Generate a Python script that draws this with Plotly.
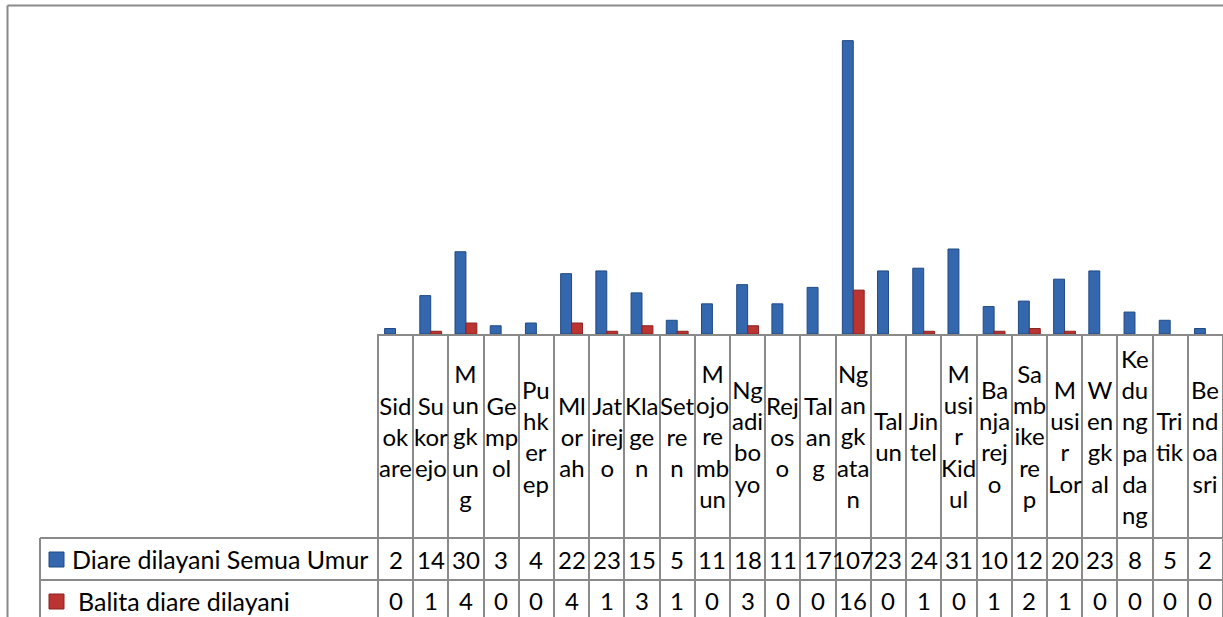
import plotly.graph_objects as go

# ---------------- data ----------------
categories = ["Sidokare", "Sukorejo", "Mungkung", "Gempol", "Puhkerep", "Mlorah",
              "Jatirejo", "Klagen", "Setren", "Mojorembun", "Ngadiboyo", "Rejoso",
              "Talang", "Ngangkatan", "Talun", "Jintel", "Musir Kidul", "Banjarejo",
              "Sambikerep", "Musir Lor", "Wengkal", "Kedungpadang", "Tritik", "Bendoasri"]
header_labels = ["Sid<br>ok<br>are", "Su<br>kor<br>ejo", "M<br>un<br>gk<br>un<br>g",
                 "Ge<br>mp<br>ol", "Pu<br>hk<br>er<br>ep", "Ml<br>or<br>ah",
                 "Jat<br>irej<br>o", "Kla<br>ge<br>n", "Set<br>re<br>n",
                 "M<br>ojo<br>re<br>mb<br>un", "Ng<br>adi<br>bo<br>yo", "Rej<br>os<br>o",
                 "Tal<br>an<br>g", "Ng<br>an<br>gk<br>ata<br>n", "Tal<br>un", "Jin<br>tel",
                 "M<br>usi<br>r<br>Kid<br>ul", "Ba<br>nja<br>rej<br>o", "Sa<br>mb<br>ike<br>re<br>p",
                 "M<br>usi<br>r<br>Lor", "W<br>en<br>gk<br>al", "Ke<br>du<br>ng<br>pa<br>da<br>ng",
                 "Tri<br>tik", "Be<br>nd<br>oa<br>sri"]
series1_name = "Diare dilayani Semua Umur"
series1 = [2, 14, 30, 3, 4, 22, 23, 15, 5, 11, 18, 11, 17, 107, 23, 24, 31, 10, 12, 20, 23, 8, 5, 2]
series2_name = "Balita diare dilayani"
series2 = [0, 1, 4, 0, 0, 4, 1, 3, 1, 0, 3, 0, 0, 16, 0, 1, 0, 1, 2, 1, 0, 0, 0, 0]

# ---------------- layout geometry (pixels) ----------------
FIG_W, FIG_H = 1223, 617
L, T, W, H = 377, 5, 846, 329          # plot area
BASE = T + H                            # y pixel of axis line (334)
ROW1_TOP, ROW2_TOP, BOTTOM = 538, 580, 621
LEG_LEFT = 40
BORDER_X, BORDER_Y = 7.5, 5.5
GRID = "#8a8a8a"
FONT = "Lato, 'Open Sans', sans-serif"
BLUE, BLUE_EDGE = "#3467AE", "#1F4A84"
RED, RED_EDGE = "#BC3431", "#8A2220"


def px(x):
    return (x - L) / W


def py(y):
    return (BASE - y) / H


fig = go.Figure()
fig.add_trace(go.Bar(x=categories, y=series1, name=series1_name,
                     marker=dict(color=BLUE,
                                 line=dict(color=BLUE_EDGE, width=[1 if v > 0 else 0 for v in series1]))))
fig.add_trace(go.Bar(x=categories, y=series2, name=series2_name,
                     marker=dict(color=RED,
                                 line=dict(color=RED_EDGE, width=[1 if v > 0 else 0 for v in series2]))))

shapes = []
# data-table horizontal rules
for yy in (ROW1_TOP, ROW2_TOP):
    shapes.append(dict(type="line", xref="paper", yref="paper", x0=px(LEG_LEFT), x1=1,
                       y0=py(yy), y1=py(yy), line=dict(color=GRID, width=2)))
# legend-cell left border
shapes.append(dict(type="line", xref="paper", yref="paper", x0=px(LEG_LEFT), x1=px(LEG_LEFT),
                   y0=py(ROW1_TOP), y1=py(BOTTOM), line=dict(color=GRID, width=2)))
# outer chart border (left and top)
shapes.append(dict(type="line", xref="paper", yref="paper", x0=px(BORDER_X), x1=px(BORDER_X),
                   y0=py(BORDER_Y), y1=py(FIG_H + 5), line=dict(color=GRID, width=2)))
shapes.append(dict(type="line", xref="paper", yref="paper", x0=px(BORDER_X), x1=1.01,
                   y0=py(BORDER_Y), y1=py(BORDER_Y), line=dict(color=GRID, width=2)))
# legend keys
for (top, col, edge) in ((552, BLUE, BLUE_EDGE), (594, RED, RED_EDGE)):
    shapes.append(dict(type="rect", xref="paper", yref="paper", x0=px(49), x1=px(64),
                       y0=py(top + 15), y1=py(top), fillcolor=col,
                       line=dict(color=edge, width=1)))

annotations = []
# category header cells
for cat, lab in zip(categories, header_labels):
    annotations.append(dict(x=cat, xref="x", y=py((BASE + ROW1_TOP) / 2), yref="paper",
                            text=lab, showarrow=False, xanchor="center", yanchor="middle",
                            font=dict(family=FONT, size=24, color="#000000")))
# value cells
for vals, top, bot in ((series1, ROW1_TOP, ROW2_TOP), (series2, ROW2_TOP, BOTTOM)):
    for cat, v in zip(categories, vals):
        annotations.append(dict(x=cat, xref="x", y=py((top + bot) / 2), yref="paper",
                                text=str(v), showarrow=False, xanchor="center", yanchor="middle",
                                font=dict(family=FONT, size=24, color="#000000")))
# legend-cell texts
annotations.append(dict(x=px(70), xref="paper", y=py((ROW1_TOP + ROW2_TOP) / 2), yref="paper",
                        text=series1_name, showarrow=False, xanchor="left", yanchor="middle",
                        font=dict(family=FONT, size=25, color="#000000")))
annotations.append(dict(x=px(76), xref="paper", y=py((ROW2_TOP + BOTTOM) / 2), yref="paper",
                        text=series2_name, showarrow=False, xanchor="left", yanchor="middle",
                        font=dict(family=FONT, size=25, color="#000000")))

fig.update_layout(
    width=FIG_W, height=FIG_H,
    margin=dict(l=L, r=FIG_W - L - W, t=T, b=FIG_H - BASE, pad=0, autoexpand=False),
    paper_bgcolor="white", plot_bgcolor="white",
    barmode="group", bargap=0.38, bargroupgap=0.0,
    showlegend=False,
    shapes=shapes, annotations=annotations,
    font=dict(family=FONT, size=24, color="#000000"),
)
fig.update_xaxes(showline=True, linecolor=GRID, linewidth=2, showgrid=False, automargin=False,
                 tickson="boundaries", ticks="outside", ticklen=FIG_H - BASE,
                 tickcolor=GRID, tickwidth=2, showticklabels=False, zeroline=False)
fig.update_yaxes(range=[0, 120], visible=False, showgrid=False, zeroline=False, automargin=False)

fig.write_html("out.html", config={"displayModeBar": False, "responsive": False},
               post_script="document.body.style.margin='0';document.body.style.overflow='hidden';")
